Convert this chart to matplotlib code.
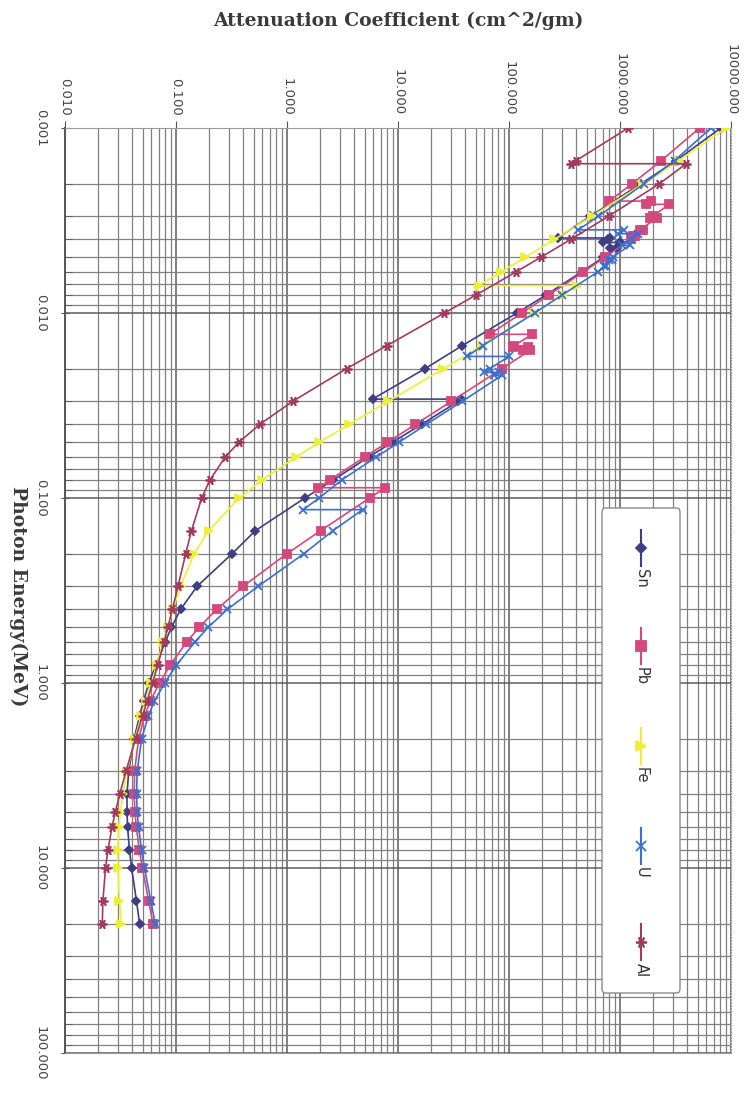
import numpy as np
import matplotlib
matplotlib.use("Agg")
import matplotlib.pyplot as plt
from matplotlib.ticker import FixedLocator, LogLocator, FuncFormatter, NullFormatter
from matplotlib.patches import FancyBboxPatch
from matplotlib.lines import Line2D

# ---- Mass attenuation coefficients (cm^2/g) vs photon energy (MeV) ----
energy_sn = [0.001, 0.0015, 0.002, 0.003, 0.003929, 0.003929, 0.004, 0.004156, 0.004156,
             0.004465, 0.004465, 0.005, 0.006, 0.008, 0.010, 0.015, 0.020, 0.0292, 0.0292,
             0.030, 0.040, 0.050, 0.060, 0.080, 0.100, 0.150, 0.200, 0.300, 0.400, 0.500,
             0.600, 0.800, 1.0, 1.25, 1.5, 2.0, 3.0, 4.0, 5.0, 6.0, 8.0, 10.0, 15.0, 20.0]
mu_sn = [8100, 3200, 1550, 540, 275, 820, 785, 710, 990,
         820, 940, 710, 450, 215, 118, 38, 17.5, 5.9, 37,
         35, 16.3, 8.9, 5.45, 2.6, 1.45, 0.52, 0.32, 0.155, 0.11, 0.091,
         0.080, 0.066, 0.057, 0.051, 0.047, 0.042, 0.0375, 0.0362, 0.0362, 0.0366,
         0.0381, 0.0398, 0.0440, 0.0470]

energy_pb = [0.001, 0.0015, 0.002, 0.002484, 0.002484, 0.002586, 0.002586, 0.003,
             0.003066, 0.003066, 0.003554, 0.003554, 0.003851, 0.003851, 0.004, 0.005,
             0.006, 0.008, 0.010, 0.013035, 0.013035, 0.015, 0.0152, 0.0152, 0.015861,
             0.015861, 0.020, 0.030, 0.040, 0.050, 0.060, 0.080, 0.088004, 0.088004,
             0.100, 0.150, 0.200, 0.300, 0.400, 0.500, 0.600, 0.800, 1.0, 1.25, 1.5,
             2.0, 3.0, 4.0, 5.0, 6.0, 8.0, 10.0, 15.0, 20.0]
mu_pb = [5210, 2356, 1285, 800, 1900, 1730, 2770, 1965,
         1868, 2148, 1506, 1596, 1317, 1370, 1251, 730.4,
         467.2, 228.7, 130.6, 67.0, 162.2, 111.6, 107.8, 148.5, 134.4,
         155.6, 86.36, 30.32, 14.36, 8.041, 5.021, 2.419, 1.910, 7.683,
         5.549, 2.014, 0.9985, 0.4031, 0.2323, 0.1614, 0.1248, 0.0887, 0.07102, 0.05876, 0.05222,
         0.04606, 0.04234, 0.04197, 0.04272, 0.04391, 0.04675, 0.04972, 0.05658, 0.06206]

energy_fe = [0.001, 0.0015, 0.002, 0.003, 0.004, 0.005, 0.006, 0.007112, 0.007112, 0.008,
             0.010, 0.015, 0.020, 0.030, 0.040, 0.050, 0.060, 0.080, 0.100, 0.150, 0.200,
             0.300, 0.400, 0.500, 0.600, 0.800, 1.0, 1.25, 1.5, 2.0, 3.0, 4.0, 5.0, 6.0,
             8.0, 10.0, 15.0, 20.0]
mu_fe = [9085, 3399, 1626, 557.6, 256.7, 139.8, 84.84, 53.19, 407.6, 305.6,
         170.6, 57.08, 25.68, 8.176, 3.629, 1.958, 1.205, 0.5952, 0.3717, 0.1964, 0.146,
         0.1099, 0.094, 0.08414, 0.07704, 0.06699, 0.05995, 0.0535, 0.04883, 0.04265,
         0.03621, 0.03312, 0.03146, 0.03057, 0.02991, 0.02994, 0.03092, 0.03224]

energy_u = [0.001, 0.0015, 0.002, 0.003, 0.0035517, 0.0035517, 0.0037276, 0.0037276, 0.004,
            0.0043034, 0.0043034, 0.005, 0.0051822, 0.0051822, 0.005548, 0.005548, 0.006,
            0.008, 0.010, 0.015, 0.0171663, 0.0171663, 0.020, 0.0209476, 0.0209476,
            0.0217574, 0.0217574, 0.030, 0.040, 0.050, 0.060, 0.080, 0.100, 0.115606,
            0.115606, 0.150, 0.200, 0.300, 0.400, 0.500, 0.600, 0.800, 1.0, 1.25, 1.5,
            2.0, 3.0, 4.0, 5.0, 6.0, 8.0, 10.0, 15.0, 20.0]
mu_u = [6600, 3100, 1650, 640, 420, 1080, 960, 1450, 1250,
        1040, 1220, 860, 790, 850, 720, 750, 630,
        300, 170, 58, 42, 100, 67, 59, 82,
        74, 86, 38, 18, 10.2, 6.4, 3.1, 1.95, 1.40,
        4.8, 2.6, 1.42, 0.55, 0.29, 0.195, 0.148, 0.101, 0.079, 0.064, 0.0565,
        0.049, 0.0447, 0.0441, 0.0448, 0.046, 0.0489, 0.052, 0.0592, 0.065]

energy_al = [0.001, 0.0015, 0.0015596, 0.0015596, 0.002, 0.003, 0.004, 0.005, 0.006, 0.008,
             0.010, 0.015, 0.020, 0.030, 0.040, 0.050, 0.060, 0.080, 0.100, 0.150, 0.200,
             0.300, 0.400, 0.500, 0.600, 0.800, 1.0, 1.25, 1.5, 2.0, 3.0, 4.0, 5.0, 6.0,
             8.0, 10.0, 15.0, 20.0]
mu_al = [1185, 402.2, 362.1, 3957, 2263, 788, 360.5, 193.4, 115.3, 50.33,
         26.23, 7.955, 3.441, 1.128, 0.5685, 0.3681, 0.2778, 0.2018, 0.1704, 0.1378, 0.1223,
         0.1042, 0.09276, 0.08445, 0.07802, 0.06841, 0.06146, 0.05496, 0.05006, 0.04324,
         0.03541, 0.03106, 0.02836, 0.02655, 0.02437, 0.02318, 0.02195, 0.02168]

series_names = ["Sn", "Pb", "Fe", "U", "Al"]
energies = [energy_sn, energy_pb, energy_fe, energy_u, energy_al]
coefficients = [mu_sn, mu_pb, mu_fe, mu_u, mu_al]

coef_ticks = [0.01, 0.1, 1, 10, 100, 1000, 10000]
energy_ticks = [0.001, 0.01, 0.1, 1, 10, 100]

colors = ["#3e3e82", "#d4487c", "#eeee3a", "#3c6fd2", "#a33a60"]
markers = ["D", "s", ">", "x", (6, 2, 90)]
msizes = [4.5, 5.5, 6, 6, 7]

W, H = 748, 1096
fig = plt.figure(figsize=(W / 100, H / 100), dpi=100)
fig.patch.set_facecolor("white")

# page is laid out sideways: energy runs down, attenuation runs right
ax = fig.add_axes([65 / W, 1 - 1053 / H, (731 - 65) / W, (1053 - 128) / H])

for name, e, mu, c, m, ms in zip(series_names, energies, coefficients, colors, markers, msizes):
    ax.plot(mu, e, color=c, lw=1.2, marker=m, ms=ms, mfc=c, mec=c, mew=1.3, zorder=3)

ax.set_xscale("log")
ax.set_yscale("log")
ax.set_xlim(coef_ticks[0], coef_ticks[-1])
ax.set_ylim(energy_ticks[-1], energy_ticks[0])

fmt = FuncFormatter(lambda v, p: f"{v:.3f}")
ax.xaxis.set_major_locator(FixedLocator(coef_ticks))
ax.yaxis.set_major_locator(FixedLocator(energy_ticks))
for axis in (ax.xaxis, ax.yaxis):
    axis.set_minor_locator(LogLocator(base=10, subs=np.arange(2, 10), numticks=200))
    axis.set_major_formatter(fmt)
    axis.set_minor_formatter(NullFormatter())

ax.xaxis.tick_top()
ax.tick_params(axis="x", which="major", labelrotation=-90, labelsize=9.5,
               labelcolor="#444444", length=5, color="#555555", pad=4)
ax.tick_params(axis="x", which="minor", length=0)
ax.tick_params(axis="y", which="major", labelrotation=-90, labelsize=9.5,
               labelcolor="#444444", length=6, direction="inout", color="#555555", pad=10)
ax.tick_params(axis="y", which="minor", length=5, direction="in", color="#555555")
for lbl in ax.get_yticklabels():
    lbl.set_va("center")

ax.grid(True, which="major", color="#5c5c5c", lw=1.1, zorder=0)
ax.grid(True, which="minor", color="#808080", lw=0.9, zorder=0)
ax.set_axisbelow(True)

for side in ("top", "bottom", "right"):
    ax.spines[side].set_color("#9a9a9a")
    ax.spines[side].set_linewidth(0.8)
ax.spines["right"].set_linestyle(":")
ax.spines["left"].set_color("#555555")
ax.spines["left"].set_linewidth(1.4)

fig.text(398 / W, 1 - 21 / H, "Attenuation Coefficient (cm^2/gm)", ha="center", va="center",
         fontsize=13.5, fontweight="bold", family="DejaVu Serif", color="#3a3a3a")
fig.text(18 / W, 1 - 596 / H, "Photon Energy(MeV)", rotation=-90, ha="center", va="center",
         fontsize=13.5, fontweight="bold", family="DejaVu Serif", color="#3a3a3a")

# sideways legend box
box = FancyBboxPatch((602 / W, 1 - 993 / H), (680 - 602) / W, (993 - 508) / H,
                     boxstyle="round,pad=0,rounding_size=0.004", transform=fig.transFigure,
                     fc="white", ec="#8a8a8a", lw=1.0, zorder=5)
fig.add_artist(box)
entry_y = [548, 646, 746, 846, 942]
lx = 641
for name, c, m, ms, yc in zip(series_names, colors, markers, msizes, entry_y):
    fig.add_artist(Line2D([lx / W, lx / W], [1 - (yc - 18) / H, 1 - (yc + 18) / H],
                          transform=fig.transFigure, color=c, lw=1.5, zorder=6))
    fig.add_artist(Line2D([lx / W], [1 - yc / H], transform=fig.transFigure, color=c,
                          marker=m, ms=ms + 1, mfc=c, mec=c, mew=1.3, zorder=7))
    fig.text(lx / W, 1 - (yc + 21) / H, name, rotation=-90, ha="center", va="top",
             fontsize=10.5, color="#333333", zorder=8)

fig.savefig("out.png", dpi=100, facecolor="white")
